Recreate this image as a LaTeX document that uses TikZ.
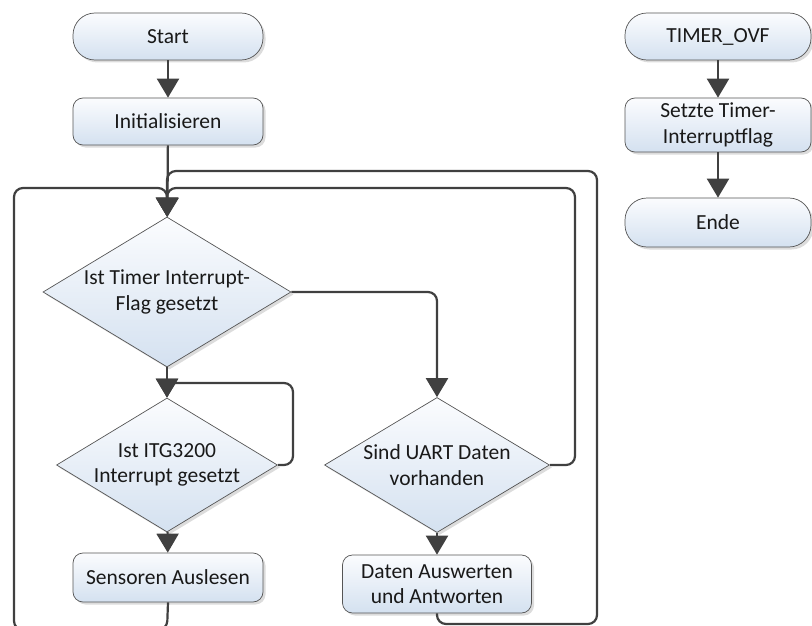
\documentclass[tikz,border=0pt]{standalone}
\usepackage{fontspec}
\setmainfont{Carlito}
\usetikzlibrary{shapes.geometric,arrows.meta,shadows}
\definecolor{lineC}{RGB}{64,64,64}
\definecolor{edgeC}{RGB}{85,85,85}
\definecolor{topC}{RGB}{251,252,254}
\definecolor{botC}{RGB}{212,225,240}
\begin{document}
\begin{tikzpicture}[x=1pt,y=-1pt,
  txt/.style={font=\fontsize{21.5}{25.5}\selectfont, text=black!90, align=center, inner sep=0pt},
  base/.style={txt, draw=edgeC, line width=0.7pt, top color=topC, bottom color=botC,
    drop shadow={shadow xshift=2.5pt, shadow yshift=-2.5pt, fill=black!30, opacity=0.45}},
  term/.style={base, rounded corners=22pt, minimum width=190pt, minimum height=47pt},
  proc/.style={base, rounded corners=10pt, minimum width=190pt},
  dec/.style={base, diamond},
  conn/.style={draw=lineC, line width=2.2pt, rounded corners=9pt, -{Triangle[length=19pt,width=22pt]}}
]
\useasboundingbox (0,0) rectangle (812,626);

% main flow
\node[term] (start) at (168,36.5) {Start};
\node[proc, minimum height=47pt] (init) at (168,121.5) {Initialisieren};
\node[dec, minimum width=248pt, minimum height=150pt] (d1) at (167,292) {};
\node[txt] (d1t) at (d1) {Ist Timer Interrupt-\\Flag gesetzt};
\node[dec, minimum width=221pt, minimum height=134pt] (d2) at (167,465) {};
\node[txt] (d2t) at (d2) {Ist ITG3200\\Interrupt gesetzt};
\node[dec, minimum width=225pt, minimum height=135pt] (d3) at (437,465) {};
\node[txt] (d3t) at (d3) {Sind UART Daten\\vorhanden};
\node[proc, minimum height=49pt] (sens) at (168,577.5) {Sensoren Auslesen};
\node[proc, minimum width=189pt, minimum height=58pt] (daten) at (437,584) {Daten Auswerten\\und Antworten};

% interrupt routine
\node[term, minimum width=186pt] (tovf) at (718,36.5) {TIMER\_OVF};
\node[proc, minimum width=186pt, minimum height=54pt] (setz) at (718,125) {Setzte Timer-\\Interruptflag};
\node[term, minimum width=186pt, minimum height=49pt] (ende) at (718,222.5) {Ende};

% connectors
\draw[conn] (start) -- (init);
\draw[conn] (init) -- (d1);
\draw[conn] (sens.south) -- (167,630) -- (14,630) -- (14,188) -- (167,188) -- (d1.north);
\draw[conn] (d3.east) -- (575,465) -- (575,188) -- (167,188) -- (d1.north);
\draw[conn] (daten.south) -- (437,624) -- (597,624) -- (597,171) -- (167,171) -- (d1.north);
\draw[conn] (d1.east) -- (437,292) -- (d3.north);
\draw[conn] (d1) -- (d2);
\draw[conn] (d2.east) -- (293,465) -- (293,383) -- (167,383) -- (d2.north);
\draw[conn] (d2) -- (sens);
\draw[conn] (d3) -- (daten);
\draw[conn] (tovf) -- (setz);
\draw[conn] (setz) -- (ende);
\end{tikzpicture}
\end{document}
